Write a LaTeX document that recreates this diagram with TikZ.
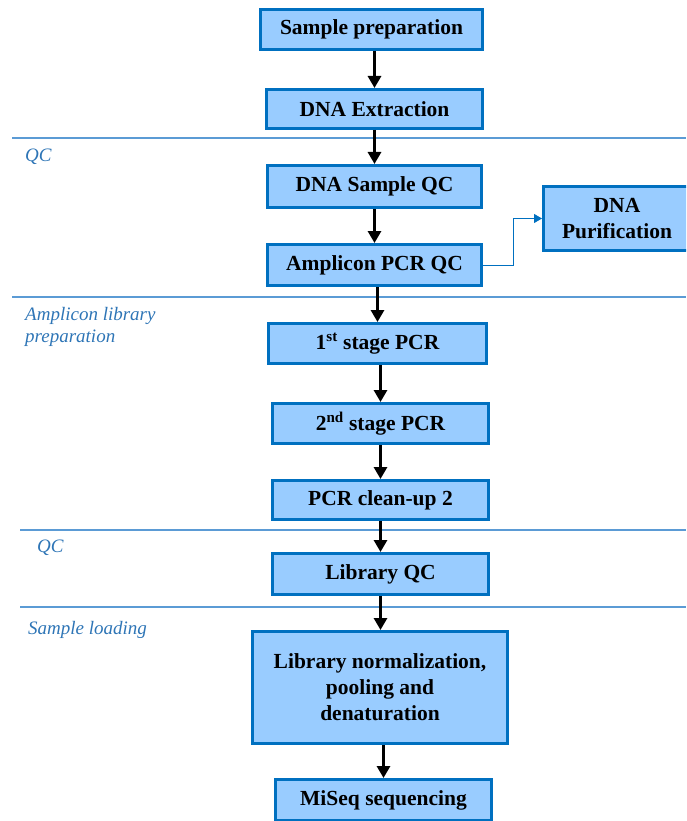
\documentclass[tikz,border=0pt]{standalone}
\usepackage{fontspec}
\setmainfont{Liberation Serif}
\usetikzlibrary{arrows.meta}
\definecolor{boxfill}{RGB}{153,204,255}
\definecolor{boxline}{RGB}{0,112,192}
\definecolor{sepline}{RGB}{91,155,213}
\definecolor{phasetext}{RGB}{46,117,182}
\tikzstyle{stepbox} = [rectangle, draw=boxline, fill=boxfill, line width=3pt, inner sep=2pt, align=center, font=\fontsize{21.5}{26}\selectfont\bfseries]
\tikzstyle{arrow} = [line width=3pt,-{Triangle[length=12pt,width=13pt]}]
\tikzstyle{link} = [draw=boxline, line width=1pt,-{Triangle[length=8pt,width=9pt]}]
\tikzstyle{phase} = [anchor=west, inner sep=0pt, align=left, text=phasetext, font=\fontsize{19}{22}\selectfont\itshape]
\tikzstyle{sep} = [draw=sepline, line width=1.2pt]

\begin{document}
\begin{tikzpicture}[x=1pt,y=-1pt]

\useasboundingbox (0,0) rectangle (686,821);
\clip (0,0) rectangle (686,821);

% phase separators

\coordinate (sep_1l) at (12,138);
\coordinate (sep_1r) at (686,138);
\coordinate (sep_2l) at (12,297);
\coordinate (sep_2r) at (686,297);
\coordinate (sep_3l) at (20,530);
\coordinate (sep_3r) at (686,530);
\coordinate (sep_4l) at (20,607);
\coordinate (sep_4r) at (686,607);

\draw [sep] (sep_1l) -- (sep_1r);
\draw [sep] (sep_2l) -- (sep_2r);
\draw [sep] (sep_3l) -- (sep_3r);
\draw [sep] (sep_4l) -- (sep_4r);

\node[phase] (qc_1) at (25,157) {QC};
\node[phase] (amp_lib) at (25,327) {Amplicon library\\preparation};
\node[phase] (qc_2) at (37,548) {QC};
\node[phase] (loading) at (28,630) {Sample loading};

% main steps

\node[stepbox, minimum width=222pt, minimum height=40pt] (sample_prep) at (371.5,29.5) {Sample preparation};
\node[stepbox, minimum width=216pt, minimum height=39pt] (dna_extr) at (374.5,109) {DNA Extraction};
\node[stepbox, minimum width=214pt, minimum height=42pt] (dna_qc) at (374.5,186.5) {DNA Sample QC};
\node[stepbox, minimum width=214pt, minimum height=41pt] (amp_qc) at (374.5,265) {Amplicon PCR QC};
\node[stepbox, minimum width=147pt, minimum height=64pt] (dna_purif) at (617,218.5) {DNA\\Purification};

\node[stepbox, minimum width=218pt, minimum height=40pt] (pcr_1) at (377.5,343.5) {1\textsuperscript{st} stage PCR};
\node[stepbox, minimum width=216pt, minimum height=40pt] (pcr_2) at (380.5,423.5) {2\textsuperscript{nd} stage PCR};
\node[stepbox, minimum width=216pt, minimum height=39pt] (cleanup) at (380.5,500) {PCR clean-up 2};
\node[stepbox, minimum width=216pt, minimum height=41pt] (lib_qc) at (380.5,574) {Library QC};
\node[stepbox, minimum width=255pt, minimum height=112pt] (lib_norm) at (380,687.5) {Library normalization,\\pooling and\\denaturation};
\node[stepbox, minimum width=216pt, minimum height=41pt] (miseq) at (383.5,800) {MiSeq sequencing};

\draw [arrow] (sample_prep.south -| dna_extr.north) -- (dna_extr.north);
\draw [arrow] (dna_extr) -- (dna_qc);
\draw [arrow] (dna_qc) -- (amp_qc);
\draw [link] (amp_qc.east) -- ++(30,0) |- (dna_purif.west);
\draw [arrow] (amp_qc.south -| pcr_1.north) -- (pcr_1.north);
\draw [arrow] (pcr_1.south -| pcr_2.north) -- (pcr_2.north);
\draw [arrow] (pcr_2) -- (cleanup);
\draw [arrow] (cleanup) -- (lib_qc);
\draw [arrow] (lib_qc.south) -- (lib_qc.south |- lib_norm.north);
\draw [arrow] (lib_norm.south -| miseq.north) -- (miseq.north);

\end{tikzpicture}
\end{document}
